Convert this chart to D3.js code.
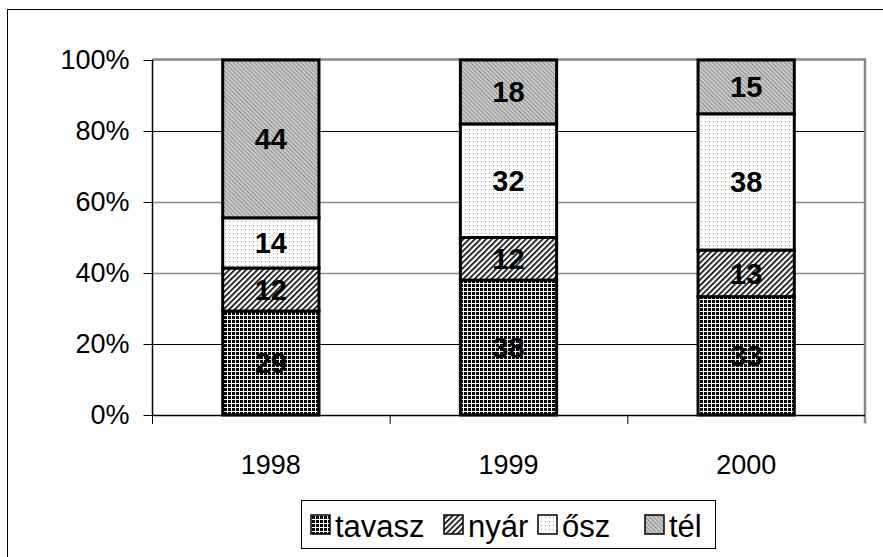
<!DOCTYPE html>
<html><head><meta charset="utf-8">
<script src="https://cdn.jsdelivr.net/npm/d3@7"></script>
<style>
html,body{margin:0;padding:0;background:#fff;}
svg{display:block;font-family:"Liberation Sans",Arial,sans-serif;}
</style></head>
<body><svg id="c" width="883" height="557"></svg>
<script>
const years = ["1998", "1999", "2000"];
const seriesNames = ["tavasz", "nyár", "ősz", "tél"];
const tavasz = [29, 38, 33];
const nyar = [12, 12, 13];
const osz = [14, 32, 38];
const tel = [44, 18, 15];
const yTicks = [0, 0.2, 0.4, 0.6, 0.8, 1.0];

const seriesValues = [tavasz, nyar, osz, tel];
const rows = years.map((y, i) => {
  const r = {year: y};
  seriesNames.forEach((s, k) => r[s] = seriesValues[k][i]);
  return r;
});

const svg = d3.select("#c");
const defs = svg.append("defs");

// patterns
const pTav = defs.append("pattern").attr("id", "p0").attr("patternUnits", "userSpaceOnUse").attr("width", 4).attr("height", 4);
pTav.append("rect").attr("width", 4).attr("height", 4).attr("fill", "#fff");
pTav.append("rect").attr("x", 0).attr("y", 0).attr("width", 3).attr("height", 3).attr("fill", "#000");

const pNy = defs.append("pattern").attr("id", "p1").attr("patternUnits", "userSpaceOnUse").attr("width", 4).attr("height", 4)
  .attr("patternTransform", "rotate(45)");
pNy.append("rect").attr("width", 4).attr("height", 4).attr("fill", "#fff");
pNy.append("rect").attr("x", 0).attr("y", 0).attr("width", 1.6).attr("height", 4).attr("fill", "#000");

const pOs = defs.append("pattern").attr("id", "p2").attr("patternUnits", "userSpaceOnUse").attr("width", 4).attr("height", 4);
pOs.append("rect").attr("width", 4).attr("height", 4).attr("fill", "#fff");
pOs.append("rect").attr("x", 1).attr("y", 1).attr("width", 1).attr("height", 1).attr("fill", "#999");

const pTel = defs.append("pattern").attr("id", "p3").attr("patternUnits", "userSpaceOnUse").attr("width", 3).attr("height", 3)
  .attr("patternTransform", "rotate(-45)");
pTel.append("rect").attr("width", 3).attr("height", 3).attr("fill", "#d4d4d4");
pTel.append("rect").attr("x", 0).attr("y", 0).attr("width", 1.2).attr("height", 3).attr("fill", "#8a8a8a");

const fills = ["url(#p0)", "url(#p1)", "url(#p2)", "url(#p3)"];

// outer frame
svg.append("rect").attr("x", 7.5).attr("y", 9.5).attr("width", 1000).attr("height", 1000)
  .attr("fill", "none").attr("stroke", "#000").attr("stroke-width", 1);

const L = 152, R = 865, T = 60, B = 415;
const x = d3.scaleBand().domain(years).range([L, R]).padding(0);
const y = d3.scaleLinear().domain([0, 1]).range([B, T]);

// gridlines
yTicks.filter(t => t > 0 && t < 1).forEach(t => {
  const grey = (Math.round(t * 10) === 4 || Math.round(t * 10) === 6);
  svg.append("line").attr("x1", L).attr("x2", R).attr("y1", Math.round(y(t)) + 0.5).attr("y2", Math.round(y(t)) + 0.5)
    .attr("stroke", grey ? "#8c8c8c" : "#000").attr("stroke-width", grey ? 1.6 : 1);
});
// plot area top/right border (grey)
svg.append("line").attr("x1", L).attr("x2", R + 1).attr("y1", T - 0.5).attr("y2", T - 0.5).attr("stroke", "#888").attr("stroke-width", 2.5);
svg.append("line").attr("x1", R).attr("x2", R).attr("y1", T - 1.5).attr("y2", B + 8).attr("stroke", "#888").attr("stroke-width", 2.5);

// stacked bars
const stack = d3.stack().keys(seriesNames).offset(d3.stackOffsetExpand);
const layers = stack(rows);
const barW = x.bandwidth() * 0.405;

const g = svg.append("g");
layers.forEach((layer, k) => {
  g.selectAll(null).data(layer).enter().append("rect")
    .attr("x", d => x(d.data.year) + (x.bandwidth() - barW) / 2)
    .attr("y", d => y(d[1]))
    .attr("width", barW)
    .attr("height", d => y(d[0]) - y(d[1]))
    .attr("fill", fills[k])
    .attr("stroke", "#000").attr("stroke-width", 3);
});
layers.forEach((layer, k) => {
  g.selectAll(null).data(layer).enter().append("text")
    .attr("x", d => x(d.data.year) + x.bandwidth() / 2)
    .attr("y", d => (y(d[0]) + y(d[1])) / 2)
    .attr("dy", "0.36em")
    .attr("text-anchor", "middle")
    .attr("font-size", 29).attr("font-weight", "bold").attr("fill", "#000")
    .text(d => d.data[seriesNames[k]]);
});

// axes
const yAxis = d3.axisLeft(y).tickValues(yTicks).tickFormat(d3.format(".0%")).tickSize(9).tickPadding(14);
const ya = svg.append("g").attr("transform", `translate(${L + 0.5},0)`).call(yAxis);
ya.select(".domain").attr("stroke", "#000").attr("stroke-width", 1.5).attr("d", `M0,${T}V${B}`);
ya.selectAll(".tick line").attr("stroke", "#000");
ya.selectAll(".tick text").attr("font-size", 27).attr("fill", "#000").attr("font-family", "Liberation Sans, Arial, sans-serif");

// x axis
svg.append("line").attr("x1", L).attr("x2", R).attr("y1", B + 0.5).attr("y2", B + 0.5).attr("stroke", "#000").attr("stroke-width", 1.5);
const edges = years.map(v => x(v)).concat([R]);
edges.forEach((e, i) => {
  svg.append("line").attr("x1", e + 0.5).attr("x2", e + 0.5).attr("y1", B).attr("y2", B + 9)
    .attr("stroke", i === edges.length - 1 ? "#888" : "#000").attr("stroke-width", 1);
});
svg.selectAll(".xl").data(years).enter().append("text").attr("class", "xl")
  .attr("x", d => x(d) + x.bandwidth() / 2).attr("y", 474)
  .attr("text-anchor", "middle").attr("font-size", 27).attr("fill", "#000").text(d => d);

// legend
const lg = svg.append("g");
lg.append("rect").attr("x", 301.5).attr("y", 500.5).attr("width", 414).attr("height", 48)
  .attr("fill", "#fff").attr("stroke", "#000").attr("stroke-width", 1);
const legendX = [311, 444, 538, 645];
seriesNames.forEach((s, k) => {
  const lx = legendX[k];
  lg.append("rect").attr("x", lx).attr("y", 515).attr("width", 19).attr("height", 19)
    .attr("fill", fills[k]).attr("stroke", "#000").attr("stroke-width", 1.5);
  lg.append("text").attr("x", lx + 24).attr("y", 537).attr("font-size", 31).attr("fill", "#000").text(s);
});
</script></body></html>
